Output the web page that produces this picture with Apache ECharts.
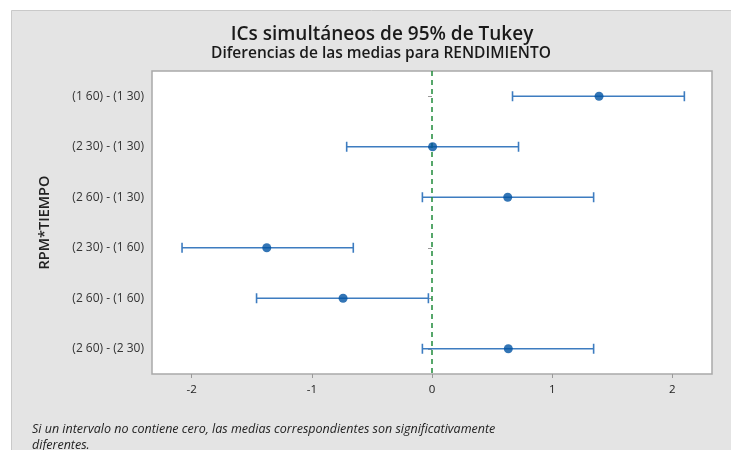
<!DOCTYPE html>
<html><head><meta charset="utf-8">
<script src="https://cdn.jsdelivr.net/npm/echarts@6/dist/echarts.min.js"></script>
<style>html,body{margin:0;padding:0;background:#fff}#c{width:731px;height:450px}</style>
</head><body><div id="c"></div>
<script>
const categories = ['(1 60) - (1 30)', '(2 30) - (1 30)', '(2 60) - (1 30)', '(2 30) - (1 60)', '(2 60) - (1 60)', '(2 60) - (2 30)'];
const lower = [0.67, -0.71, -0.08, -2.08, -1.46, -0.08];
const estimate = [1.39, 0.005, 0.63, -1.375, -0.74, 0.635];
const upper = [2.10, 0.72, 1.345, -0.655, -0.03, 1.345];
const xTicks = [-2, -1, 0, 1, 2];

const chart = echarts.init(document.getElementById('c'), null, {renderer: 'canvas'});
const fontFam = '"Open Sans", "Noto Sans", sans-serif';
const lineColor = '#3d7cc0';
const pointColor = '#0052a3';

const option = {
  backgroundColor: '#ffffff',
  animation: false,
  graphic: [
    {type: 'rect', z: -10, shape: {x: 11.5, y: 10.5, width: 730, height: 450},
     style: {fill: '#e4e4e4', stroke: '#c9c9c9', lineWidth: 1}}
  ],
  title: [
    {text: 'ICs simultáneos de 95% de Tukey', left: 377, top: 20, textAlign: 'center',
     textStyle: {fontFamily: fontFam, fontSize: 19, fontWeight: 600, color: '#1a1a1a'}},
    {text: 'Diferencias de las medias para RENDIMIENTO', left: 376, top: 41, textAlign: 'center',
     textStyle: {fontFamily: fontFam, fontSize: 15.5, fontWeight: 600, color: '#1a1a1a'}},
    {text: 'Si un intervalo no contiene cero, las medias correspondientes son significativamente\ndiferentes.',
     left: 27, top: 416,
     textStyle: {fontFamily: fontFam, fontSize: 12.5, fontStyle: 'italic', fontWeight: 'normal', color: '#222', lineHeight: 16}}
  ],
  grid: {left: 152, top: 71, right: 19, bottom: 76, show: true, backgroundColor: '#ffffff',
         borderColor: '#a9a9a9', borderWidth: 1.5, containLabel: false},
  xAxis: {
    type: 'value', min: -2.33, max: 2.33, interval: 1,
    axisLine: {show: false},
    axisTick: {show: true, length: 4, lineStyle: {color: '#999'},
      customValues: xTicks},
    axisLabel: {fontFamily: fontFam, fontSize: 11.5, color: '#222', margin: 10, customValues: xTicks,
      formatter: v => String(v)},
    splitLine: {show: false}
  },
  yAxis: {
    type: 'category', data: categories, inverse: true,
    name: 'RPM*TIEMPO', nameLocation: 'middle', nameGap: 100, nameRotate: 90,
    nameTextStyle: {fontFamily: fontFam, fontSize: 14.5, fontWeight: 600, color: '#222'},
    axisLine: {show: false},
    axisTick: {show: true, alignWithLabel: true, length: 4, lineStyle: {color: '#999'}},
    axisLabel: {fontFamily: fontFam, fontSize: 12, color: '#333', margin: 8},
    splitLine: {show: false}
  },
  series: [
    {
      type: 'custom',
      data: categories.map((c, i) => [i, lower[i], upper[i]]),
      encode: {x: [1, 2], y: 0},
      renderItem: function (params, api) {
        const i = api.value(0);
        const p1 = api.coord([api.value(1), i]);
        const p2 = api.coord([api.value(2), i]);
        const h = 5;
        const st = {stroke: lineColor, lineWidth: 1.6};
        return {type: 'group', children: [
          {type: 'line', shape: {x1: p1[0], y1: p1[1], x2: p2[0], y2: p2[1]}, style: st},
          {type: 'line', shape: {x1: p1[0], y1: p1[1] - h, x2: p1[0], y2: p1[1] + h}, style: st},
          {type: 'line', shape: {x1: p2[0], y1: p2[1] - h, x2: p2[0], y2: p2[1] + h}, style: st}
        ]};
      },
      z: 3
    },
    {
      type: 'scatter',
      data: categories.map((c, i) => [estimate[i], i]),
      symbol: 'circle', symbolSize: 9,
      itemStyle: {color: pointColor},
      z: 5,
      markLine: {
        silent: true, symbol: 'none', label: {show: false},
        lineStyle: {color: '#1f8a3a', type: [5, 4], width: 1.5},
        data: [{xAxis: 0}]
      }
    }
  ]
};
chart.setOption(option);
</script></body></html>
